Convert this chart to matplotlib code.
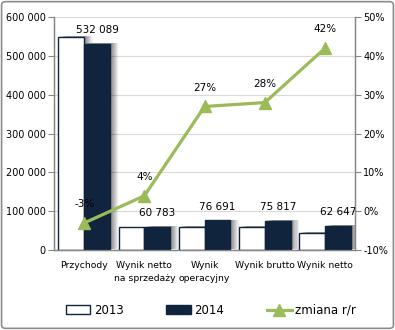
#!/usr/bin/env python3

import numpy as np
import matplotlib as mpl
import matplotlib.pyplot as plt
import matplotlib.patheffects as pe
from matplotlib.lines import Line2D
from matplotlib.patches import Patch, FancyBboxPatch
from matplotlib.ticker import FuncFormatter, MultipleLocator

mpl.rcParams['font.family'] = ['DejaVu Sans']

# data
categories = ['Przychody', 'Wynik netto\nna sprzedaży', 'Wynik\noperacyjny',
              'Wynik brutto', 'Wynik netto']
values_2013 = [548500, 58400, 60400, 59200, 44100]
values_2014 = [532089, 60783, 76691, 75817, 62647]
change_pct = [-3, 4, 27, 28, 42]

navy = '#10243e'
green = '#9bbb59'
grid_gray = '#d9d9d9'
axis_gray = '#868686'

fig = plt.figure(figsize=(3.95, 3.30), dpi=100)
ax = fig.add_axes([0.137, 0.242, 0.762, 0.706])
ax2 = ax.twinx()

x = np.arange(len(categories))
w = 0.43


def soft_shadow():
    # stacked translucent copies give a blurred drop shadow to the right
    effects = []
    for d in [6.0, 5.0, 4.2, 3.4, 2.7, 2.0, 1.4]:
        effects.append(pe.SimplePatchShadow(offset=(d, 0.5), shadow_rgbFace='k', alpha=0.07))
    effects.append(pe.Normal())
    return effects


bars13 = ax.bar(x - w / 2, values_2013, w, color='white', edgecolor=navy,
                linewidth=1.0, zorder=2)
bars14 = ax.bar(x + w / 2, values_2014, w, color=navy, edgecolor=navy,
                linewidth=1.0, zorder=3)
for b in list(bars13) + list(bars14):
    b.set_path_effects(soft_shadow())

# value labels above 2014 bars
for xi, v in zip(x, values_2014):
    ax.annotate('{:,}'.format(v).replace(',', ' '), (xi + w / 2, v),
                xytext=(0, 6), textcoords='offset points',
                ha='center', va='bottom', fontsize=7.5, zorder=6)

ax.set_xlim(-0.5, len(categories) - 0.5)
ax.set_ylim(0, 600000)
ax.yaxis.set_major_locator(MultipleLocator(100000))
ax.yaxis.set_major_formatter(FuncFormatter(
    lambda v, p: '{:,.0f}'.format(v).replace(',', ' ')))
ax.grid(axis='y', color=grid_gray, linewidth=0.8)
ax.set_axisbelow(True)
ax.set_xticks(x)
ax.set_xticklabels(categories, fontsize=6.7, linespacing=1.5)
ax.tick_params(axis='x', length=0, pad=8)
ax.tick_params(axis='y', labelsize=7, length=4, color=axis_gray, pad=2)

# change line on the secondary axis
ax2.plot(x, change_pct, color=green, linewidth=2.3, marker='^',
         markersize=8, zorder=5)
for xi, c in zip(x, change_pct):
    ax2.annotate('{}%'.format(c), (xi, c), xytext=(0, 10),
                 textcoords='offset points', ha='center', va='bottom',
                 fontsize=7.5)
ax2.set_ylim(-10, 50)
ax2.yaxis.set_major_locator(MultipleLocator(10))
ax2.yaxis.set_major_formatter(FuncFormatter(lambda v, p: '{:.0f}%'.format(v)))
ax2.tick_params(axis='y', labelsize=7, length=4, color=axis_gray, pad=2)
ax2.set_zorder(ax.get_zorder() + 1)
ax2.patch.set_visible(False)

for a in (ax, ax2):
    a.spines['top'].set_visible(False)
    for s in ('left', 'right', 'bottom'):
        a.spines[s].set_color(axis_gray)
        a.spines[s].set_linewidth(0.9)

# legend
handles = [
    Patch(facecolor='white', edgecolor=navy, linewidth=1.0),
    Patch(facecolor=navy, edgecolor=navy),
    Line2D([0], [0], color=green, linewidth=2.3, marker='^', markersize=8),
]
fig.legend(handles, ['2013', '2014', 'zmiana r/r'], loc='center',
           bbox_to_anchor=(0.534, 0.06), ncol=3, frameon=False,
           fontsize=8.5, handlelength=2.1, handleheight=0.7,
           columnspacing=3.6, handletextpad=0.3)

# outer border
fig.patches.append(FancyBboxPatch((0.004, 0.005), 0.992, 0.99,
                                  boxstyle='round,pad=0,rounding_size=0.01',
                                  transform=fig.transFigure, fill=False,
                                  edgecolor='#8c8c8c', linewidth=1.2))

fig.savefig('out.png', dpi=100)
